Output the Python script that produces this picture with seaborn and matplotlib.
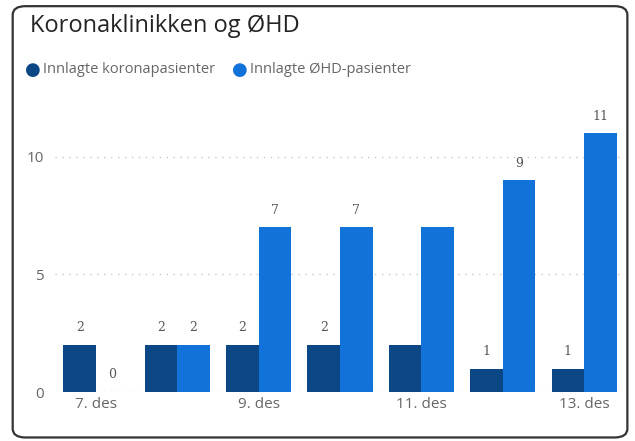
import numpy as np
import pandas as pd
import seaborn as sns
import matplotlib.pyplot as plt
from matplotlib.patches import FancyBboxPatch

dates = ['7. des', '8. des', '9. des', '10. des', '11. des', '12. des', '13. des']
korona = [2, 2, 2, 2, 2, 1, 1]
ohd = [0, 2, 7, 7, 7, 9, 11]
series_names = ['Innlagte koronapasienter', 'Innlagte ØHD-pasienter']
shown_ticks = ['7. des', '9. des', '11. des', '13. des']
no_label_dates = ['11. des']

df = pd.DataFrame({
    'dato': dates * 2,
    'antall': korona + ohd,
    'serie': [series_names[0]] * len(dates) + [series_names[1]] * len(dates),
})

sns.set_style("white")
plt.rcParams['font.family'] = ['Open Sans', 'DejaVu Sans']

fig = plt.figure(figsize=(6.35, 4.41), dpi=100)
fig.patches.append(FancyBboxPatch((0.02, 0.008), 0.968, 0.978, boxstyle="round,pad=0,rounding_size=0.02",
                                  transform=fig.transFigure, fill=False, edgecolor='#333333', linewidth=1.6))

ax = fig.add_axes([0.087, 0.111, 0.897, 0.64])
colors = ['#0B4784', '#1172DA']
sns.barplot(data=df, x='dato', y='antall', hue='serie', palette=colors, width=0.8,
            saturation=1, ax=ax, legend=False, linewidth=0, edgecolor='none')

ax.set_ylim(0, 12)
ax.set_yticks([0, 5, 10])
for y in [0, 5, 10]:
    ax.axhline(y, color='#c8c8c8', linestyle=(0, (1, 4)), linewidth=1, zorder=0)
sns.despine(ax=ax, left=True, bottom=True)
ax.set_xlabel('')
ax.set_ylabel('')
ax.set_xticks(range(len(dates)))
ax.set_xticklabels([d if d in shown_ticks else '' for d in dates])
ax.tick_params(axis='both', length=0, labelsize=11, labelcolor='#666666')
ax.tick_params(axis='y', pad=8)

for cont in ax.containers:
    for bar, d in zip(cont, dates):
        if d in no_label_dates:
            continue
        h = bar.get_height()
        ax.text(bar.get_x() + bar.get_width() / 2, h + 0.45, f'{int(h)}', ha='center', va='bottom',
                fontsize=9, color='#555555', family='DejaVu Serif')

fig.text(0.047, 0.94, 'Koronaklinikken og ØHD', fontsize=17, color='#252423', va='center')
xs = [0.052, 0.378]
for x, name, c in zip(xs, series_names, colors):
    fig.text(x, 0.842, '●', fontsize=13, color=c, va='center', ha='center', family='DejaVu Sans')
    fig.text(x + 0.016, 0.842, name, fontsize=10.5, color='#666666', va='center')

fig.savefig('out.png', dpi=100)
